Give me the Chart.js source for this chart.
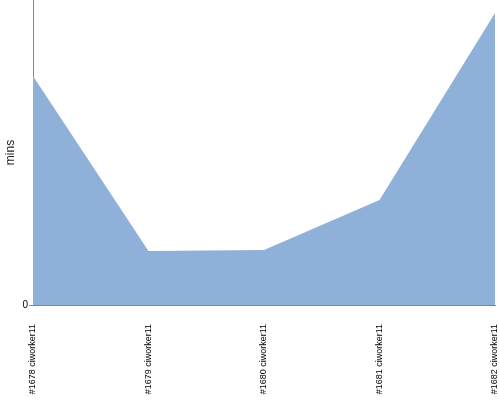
<!DOCTYPE html>
<html><head><meta charset="utf-8">
<script src="https://cdn.jsdelivr.net/npm/chart.js@4/dist/chart.umd.min.js"></script>
<style>html,body{margin:0;padding:0;background:#fff}#wrap{width:500px;height:400px}</style>
</head><body><div id="wrap"><canvas id="c" width="500" height="400"></canvas></div>
<script>
const categories = ["#1678 ciworker11", "#1679 ciworker11", "#1680 ciworker11", "#1681 ciworker11", "#1682 ciworker11"];
const minsValues = [75.1, 17.7, 18.0, 34.4, 95.7];
const yTicks = [0];

new Chart(document.getElementById('c'), {
  type: 'line',
  data: {
    labels: categories,
    datasets: [{
      data: minsValues,
      fill: 'origin',
      backgroundColor: '#8FB1D9',
      borderColor: '#8FB1D9',
      borderWidth: 0,
      pointRadius: 0,
      tension: 0
    }]
  },
  options: {
    responsive: false,
    animation: false,
    layout: { padding: { top: 0, right: 5, bottom: 0, left: 0 } },
    plugins: { legend: { display: false }, tooltip: { enabled: false } },
    scales: {
      x: {
        offset: false,
        grid: { display: false, drawTicks: false },
        border: { display: true, color: '#868686', width: 1 },
        ticks: {
          minRotation: 90, maxRotation: 90, autoSkip: false,
          padding: 19,
          color: '#000',
          font: { family: 'Liberation Sans', size: 9 }
        },
        afterFit: s => { s.height = 95; s.paddingLeft = 0; s.paddingRight = 0; }
      },
      y: {
        min: 0, max: 100,
        afterBuildTicks: s => { s.ticks = yTicks.map(v => ({ value: v })); },
        grid: { display: true, drawOnChartArea: false, drawTicks: true, tickLength: 4, color: '#868686' },
        border: { display: true, color: '#868686', width: 1 },
        ticks: { padding: 1, color: '#000', font: { family: 'Liberation Sans', size: 10 } },
        title: { display: true, text: 'mins', color: '#222', padding: { top: 3, bottom: 0 }, font: { family: 'Liberation Sans', size: 12 } },
        afterFit: s => { s.width = 33; s.paddingTop = 0; s.paddingBottom = 0; }
      }
    }
  }
});
</script></body></html>
